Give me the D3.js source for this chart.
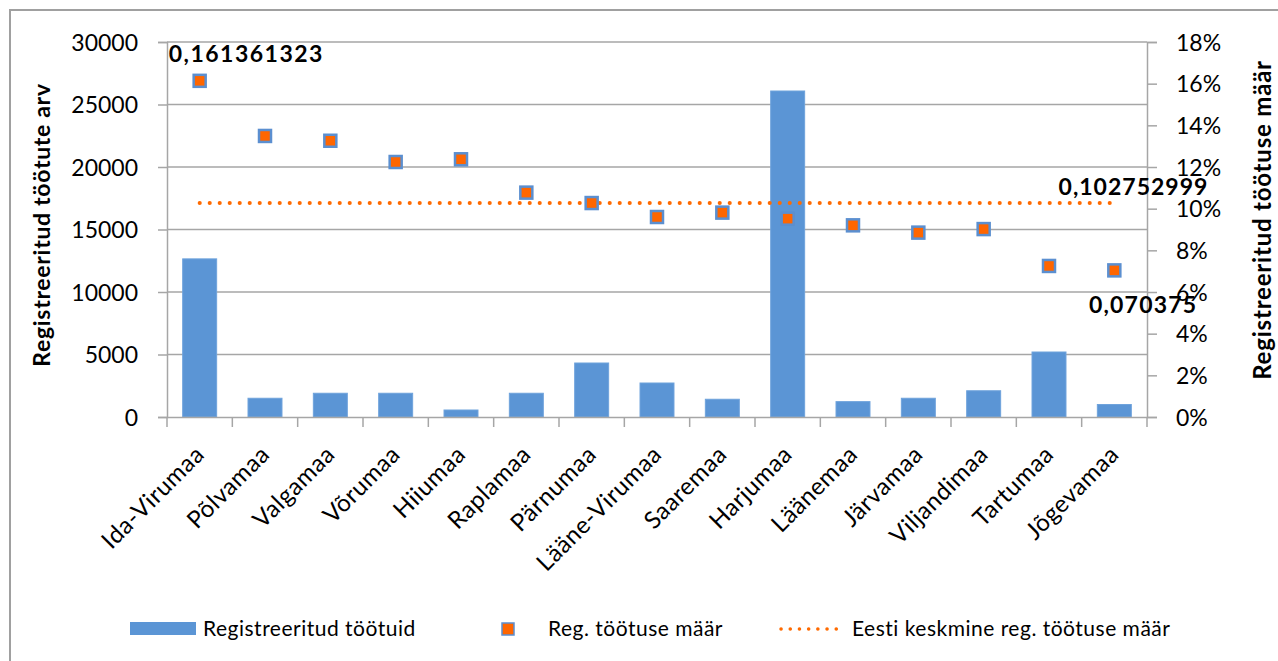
<!DOCTYPE html>
<html><head><meta charset="utf-8">
<script src="https://cdn.jsdelivr.net/npm/d3@7"></script>
<style>
body{margin:0;background:#fff;}
text{font-family:Lato,"Open Sans",sans-serif;fill:#000;}
</style></head>
<body><svg id="c" width="1278" height="661"></svg>
<script>
const categories = ["Ida-Virumaa","Põlvamaa","Valgamaa","Võrumaa","Hiiumaa","Raplamaa","Pärnumaa","Lääne-Virumaa","Saaremaa","Harjumaa","Läänemaa","Järvamaa","Viljandimaa","Tartumaa","Jõgevamaa"];
const unemployed = [12650,1500,1900,1900,560,1900,4320,2720,1420,26080,1230,1500,2100,5200,1000];
const rate = [0.161361323,0.1349,0.1326,0.1224,0.1237,0.1077,0.1027,0.0960,0.0981,0.0952,0.0920,0.0885,0.0902,0.0725,0.070375];
const average = 0.102752999;
const leftTicks = [0,5000,10000,15000,20000,25000,30000];
const rightTicks = [0,0.02,0.04,0.06,0.08,0.10,0.12,0.14,0.16,0.18];
const seriesNames = ["Registreeritud töötuid","Reg. töötuse määr","Eesti keskmine reg. töötuse määr"];
const leftTitle = "Registreeritud töötute arv";
const rightTitle = "Registreeritud töötuse määr";

const svg = d3.select("#c");
const L=167,R=1147,T=42,B=417;
const x = d3.scaleBand().domain(categories).range([L,R]).paddingInner(0.48).paddingOuter(0.24);
const xb = d3.scaleBand().domain(categories).range([L,R]);
const y = d3.scaleLinear().domain([0,30000]).range([B,T]);
const y2 = d3.scaleLinear().domain([0,0.18]).range([B,T]);
const cx = c => xb(c)+xb.bandwidth()/2;
const grid="#a6a6a6";

// frame
svg.append("rect").attr("x",10).attr("y",10).attr("width",1300).attr("height",700)
  .attr("fill","none").attr("stroke","#a0a0a0").attr("stroke-width",2);

// gridlines
svg.append("g").selectAll("line").data(leftTicks.slice(1)).join("line")
  .attr("x1",L).attr("x2",R).attr("y1",d=>y(d)).attr("y2",d=>y(d))
  .attr("stroke",grid).attr("stroke-width",1.5);

// left axis
const gl = svg.append("g").attr("transform",`translate(${L},0)`)
  .call(d3.axisLeft(y).tickValues(leftTicks).tickSize(9).tickPadding(20).tickFormat(d3.format("d")));
gl.select(".domain").attr("stroke",grid).attr("stroke-width",1.5);
gl.selectAll(".tick line").attr("stroke",grid).attr("stroke-width",1.5);
gl.selectAll(".tick text").attr("font-size",23).attr("font-family","Lato").attr("fill","#111").attr("dy","0.36em");

// right axis
const gr = svg.append("g").attr("transform",`translate(${R},0)`)
  .call(d3.axisRight(y2).tickValues(rightTicks).tickSize(10).tickPadding(19).tickFormat(d3.format(".0%")));
gr.select(".domain").attr("stroke",grid).attr("stroke-width",1.5);
gr.selectAll(".tick line").attr("stroke",grid).attr("stroke-width",1.5);
gr.selectAll(".tick text").attr("font-size",23).attr("font-family","Lato").attr("fill","#111").attr("dy","0.36em");

// bars
svg.append("g").selectAll("rect").data(categories).join("rect")
  .attr("x",c=>x(c)).attr("width",x.bandwidth())
  .attr("y",(c,i)=>y(unemployed[i])).attr("height",(c,i)=>B-y(unemployed[i]))
  .attr("fill","#5b95d5").attr("stroke","#6fa3dc").attr("stroke-width",1);

// bottom axis
const gb = svg.append("g").attr("transform",`translate(0,${B})`)
  .call(d3.axisBottom(xb).tickSize(0).tickFormat(""));
gb.select(".domain").attr("stroke",grid).attr("stroke-width",1.5);
const bounds = categories.map(c=>xb(c)).concat([R]);
svg.append("g").selectAll("line").data(bounds).join("line")
  .attr("x1",d=>d).attr("x2",d=>d).attr("y1",B).attr("y2",B+10)
  .attr("stroke",grid).attr("stroke-width",1.5);
svg.append("g").selectAll("text").data(categories).join("text")
  .attr("transform",c=>`translate(${cx(c)+6},456) rotate(-45)`)
  .attr("text-anchor","end").attr("font-size",24).attr("letter-spacing",0.5).attr("fill","#111").text(c=>c);

// average line
svg.append("line").attr("x1",cx(categories[0])).attr("x2",cx(categories[categories.length-1]))
  .attr("y1",y2(average)).attr("y2",y2(average))
  .attr("stroke","#ff6a00").attr("stroke-width",4).attr("stroke-linecap","round")
  .attr("stroke-dasharray","0.1 9.9");

// markers
svg.append("g").selectAll("rect").data(categories).join("rect")
  .attr("x",c=>cx(c)-6).attr("y",(c,i)=>y2(rate[i])-6).attr("width",12).attr("height",12)
  .attr("fill","#ff6600").attr("stroke","#5b8fd0").attr("stroke-width",2.5);

// data labels
const fmt = v => String(v).replace(".",",");
svg.append("text").attr("x",cx(categories[0])-31).attr("y",y2(rate[0])-19)
  .attr("font-size",23).attr("font-weight","bold").attr("letter-spacing",1.5).text(fmt(rate[0]));
svg.append("text").attr("x",cx(categories[14])+94).attr("y",y2(average)-8).attr("text-anchor","end")
  .attr("font-size",23).attr("font-weight","bold").attr("letter-spacing",1).text(fmt(average));
svg.append("text").attr("x",cx(categories[14])+83).attr("y",y2(rate[14])+43).attr("text-anchor","end")
  .attr("font-size",23).attr("font-weight","bold").attr("letter-spacing",1.2).text(fmt(rate[14]));

// axis titles
svg.append("text").attr("transform",`translate(50,225) rotate(-90)`).attr("text-anchor","middle")
  .attr("font-size",23).attr("font-weight","bold").attr("letter-spacing",0.7).text(leftTitle);
svg.append("text").attr("transform",`translate(1271,220) rotate(-90)`).attr("text-anchor","middle")
  .attr("font-size",24).attr("font-weight","bold").attr("letter-spacing",0.8).text(rightTitle);

// legend
const lg = svg.append("g");
lg.append("rect").attr("x",130).attr("y",622).attr("width",66).attr("height",13).attr("fill","#5b95d5");
lg.append("text").attr("x",203).attr("y",636).attr("font-size",21).attr("letter-spacing",0.5).attr("fill","#222").text(seriesNames[0]);
lg.append("rect").attr("x",502).attr("y",623).attr("width",12).attr("height",12).attr("fill","#ff6600").attr("stroke","#5b8fd0").attr("stroke-width",1.5);
lg.append("text").attr("x",548).attr("y",636).attr("font-size",21).attr("letter-spacing",0.5).attr("fill","#222").text(seriesNames[1]);
lg.append("line").attr("x1",781).attr("x2",845).attr("y1",629).attr("y2",629)
  .attr("stroke","#ff6a00").attr("stroke-width",3.5).attr("stroke-linecap","round").attr("stroke-dasharray","0.1 9.1");
lg.append("text").attr("x",852).attr("y",636).attr("font-size",21).attr("letter-spacing",0.5).attr("fill","#222").text(seriesNames[2]);
</script></body></html>
